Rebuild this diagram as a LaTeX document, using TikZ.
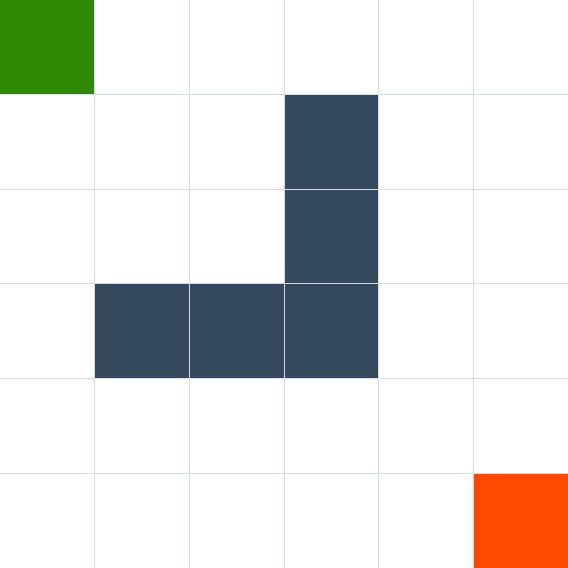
\documentclass[tikz,border=0pt]{standalone}
\definecolor{startgreen}{RGB}{46,138,2}
\definecolor{wallblue}{RGB}{52,73,94}
\definecolor{goalorange}{RGB}{255,74,0}
\definecolor{gridline}{RGB}{212,222,228}
\tikzset{cell/.style={draw=none}}
\begin{document}
\begin{tikzpicture}
\useasboundingbox (0,0) rectangle (6,6);
\fill[white] (0,0) rectangle (6,6);
\fill[startgreen] (0,5) rectangle (1,6);
\fill[wallblue] (3,4) rectangle (4,5);
\fill[wallblue] (3,3) rectangle (4,4);
\fill[wallblue] (3,2) rectangle (4,3);
\fill[wallblue] (1,2) rectangle (2,3);
\fill[wallblue] (2,2) rectangle (3,3);
\fill[goalorange] (5,0) rectangle (6,1);
\foreach \i in {1,...,5} {
  \draw[gridline, line width=0.3pt] (\i,0) -- (\i,6);
  \draw[gridline, line width=0.3pt] (0,\i) -- (6,\i);
}
\end{tikzpicture}
\end{document}
